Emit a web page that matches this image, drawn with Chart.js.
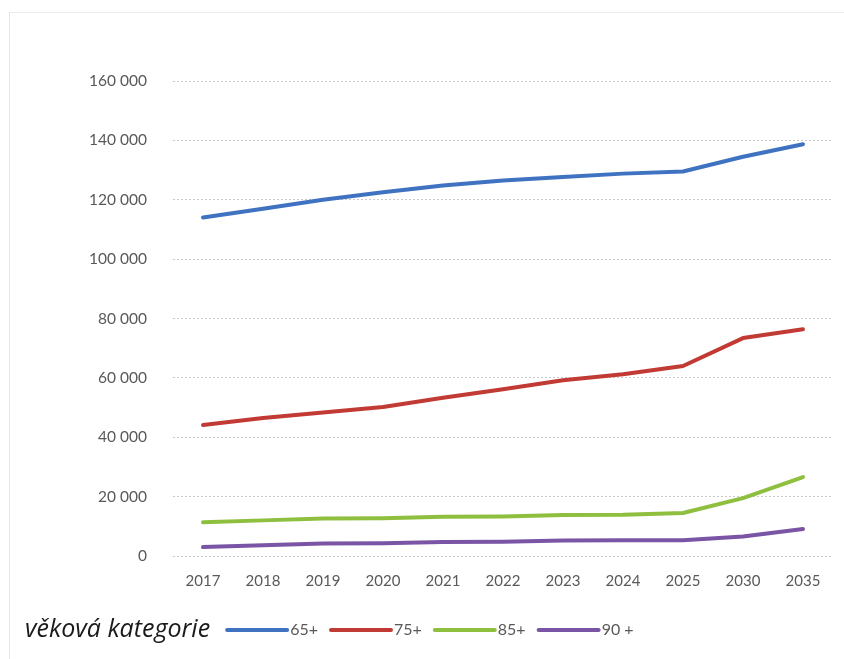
<!DOCTYPE html>
<html>
<head>
<meta charset="utf-8">
<script src="https://cdn.jsdelivr.net/npm/chart.js@4"></script>
<style>
  html, body { margin: 0; padding: 0; background: #fff; }
  #wrap { position: relative; width: 844px; height: 659px; }
  #frame { position: absolute; left: 9px; top: 12px; right: 0; bottom: 0;
           border-left: 1px solid #e4e4e4; border-top: 1px solid #ececec; }
  canvas { position: absolute; left: 0; top: 0; }
</style>
</head>
<body>
<div id="wrap">
  <div id="frame"></div>
  <canvas id="popChart" width="844" height="659"></canvas>
</div>
<script>
// years on the x axis
const years = ["2017", "2018", "2019", "2020", "2021", "2022", "2023", "2024", "2025", "2030", "2035"];

// population by age group
const age65 = [114000, 117000, 120000, 122500, 124800, 126500, 127700, 128800, 129500, 134500, 138700];
const age75 = [44100, 46500, 48300, 50200, 53300, 56200, 59200, 61200, 64000, 73400, 76400];
const age85 = [11400, 12000, 12600, 12700, 13200, 13300, 13800, 13900, 14500, 19500, 26600];
const age90 = [3000, 3600, 4200, 4300, 4700, 4800, 5200, 5300, 5300, 6600, 9100];

const seriesLabels = ["65+", "75+", "85+", "90 +"];
const seriesColors = ["#3f73c1", "#c23a34", "#8fbf3f", "#7a55a5"];

const legendTitle = "věková kategorie";
const fontFamily = "Lato, 'Open Sans', sans-serif";

// number format with a space as thousands separator
function fmt(v) {
  return String(v).replace(/\B(?=(\d{3})+(?!\d))/g, " ");
}

// legend drawn in one row: italic title, then a line sample + label per series
const inlineLegend = {
  id: "inlineLegend",
  afterDraw(chart) {
    const c = chart.ctx;
    const y = 630;
    c.save();
    c.textBaseline = "middle";
    c.font = "italic 25px 'Open Sans', sans-serif";
    c.fillStyle = "#1a1a1a";
    c.fillText(legendTitle, 25, y);
    let x = 25 + c.measureText(legendTitle).width + 17;
    c.font = "16px " + fontFamily;
    chart.data.datasets.forEach((ds) => {
      c.strokeStyle = ds.borderColor;
      c.lineWidth = 4;
      c.lineCap = "round";
      c.beginPath();
      c.moveTo(x, y);
      c.lineTo(x + 60, y);
      c.stroke();
      x += 63;
      c.fillStyle = "#595959";
      c.fillText(ds.label, x, y);
      x += c.measureText(ds.label).width + 13;
    });
    c.restore();
  },
};

const datasets = [age65, age75, age85, age90].map((values, i) => ({
  label: seriesLabels[i],
  data: values,
  borderColor: seriesColors[i],
  backgroundColor: seriesColors[i],
  borderWidth: 4,
  borderCapStyle: "round",
  borderJoinStyle: "round",
  pointRadius: 0,
  tension: 0,
  fill: false,
}));

const ctx = document.getElementById("popChart").getContext("2d");
const popChart = new Chart(ctx, {
  type: "line",
  data: { labels: years, datasets: datasets },
  options: {
    responsive: false,
    animation: false,
    layout: { padding: { top: 81, right: 11, bottom: 63, left: 0 } },
    plugins: {
      legend: { display: false },
      tooltip: { enabled: false },
    },
    scales: {
      x: {
        offset: true,
        grid: { display: false, drawTicks: false },
        border: { display: false },
        ticks: { color: "#595959", font: { family: fontFamily, size: 15 }, padding: 16, maxRotation: 0 },
        afterFit(scale) { scale.height = 40; },
      },
      y: {
        min: 0,
        max: 160000,
        ticks: {
          stepSize: 20000,
          color: "#595959",
          font: { family: fontFamily, size: 15.5 },
          padding: 26,
          callback: (v) => fmt(v),
        },
        grid: { color: "#c8c8c8", drawTicks: false, lineWidth: 1 },
        border: { display: false, dash: [2, 2] },
        afterFit(scale) { scale.width = 173; },
      },
    },
  },
  plugins: [inlineLegend],
});
</script>
</body>
</html>
